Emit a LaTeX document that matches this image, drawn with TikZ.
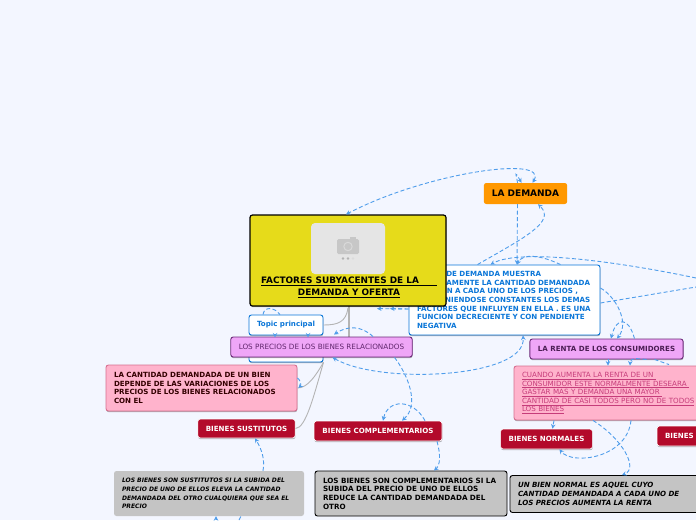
\documentclass[tikz,border=0pt]{standalone}
\usepackage{fontspec}
\setmainfont{DejaVu Sans}
\usetikzlibrary{arrows.meta,shadows}
\definecolor{bg}{HTML}{F3F6FF}
\definecolor{dashblue}{HTML}{4F9DEB}
\definecolor{linkgray}{HTML}{B4B4B4}
\definecolor{crim}{HTML}{B30A2B}
\definecolor{lilac}{HTML}{EFA6F7}
\definecolor{lilacb}{HTML}{6B2A78}
\definecolor{rosa}{HTML}{FFB3CC}
\definecolor{rosab}{HTML}{D66F90}
\definecolor{gris}{HTML}{C4C4C4}
\definecolor{azul}{HTML}{0A76D8}
\definecolor{yel}{HTML}{E6DB1A}
\definecolor{naranja}{HTML}{FF9800}
\definecolor{rosatxt}{HTML}{C63C7A}
\tikzset{
  base/.style={rectangle,rounded corners=2.5pt,inner sep=0pt,inner xsep=8pt,align=left,anchor=center},
  txt/.style={font=\bfseries\fontsize{7.1}{8.6}\selectfont},
  shad/.style={drop shadow={shadow xshift=0.3pt,shadow yshift=-1.2pt,opacity=.3,fill=black}},
  whitebox/.style={base,txt,draw=azul,fill=white,line width=0.9pt,text=azul,shad},
  lilacbox/.style={base,draw=lilacb,line width=0.9pt,fill=lilac,align=center,shad},
  rosebox/.style={base,draw=rosab,line width=0.9pt,fill=rosa,shad},
  crimbox/.style={base,txt,draw=white,line width=0.7pt,fill=crim,text=white,align=center,shad},
  greybox/.style={base,txt,fill=gris,text=black},
  greyline/.style={base,txt,draw=black,line width=0.9pt,fill=gris,text=black},
  dl/.style={draw=dashblue,line width=0.9pt,dash pattern=on 4pt off 2.4pt},
  da/.style={dl,-{Stealth[length=4.5pt,width=4.5pt]}},
  daa/.style={dl,{Stealth[length=4.5pt,width=4.5pt]}-{Stealth[length=4.5pt,width=4.5pt]}},
  gl/.style={draw=linkgray,line width=0.9pt},
}
\begin{document}
\begin{tikzpicture}[x=1pt,y=-1pt]
\useasboundingbox (0,0) rectangle (696,520);
\fill[bg] (0,0) rectangle (696,520);
\clip (0,0) rectangle (696,520);

% hidden topic node behind the lilac one
\node[whitebox,minimum width=74pt,minimum height=24pt] (topicb) at (286,350) {};

% nodes
\node[whitebox,text width=175pt,minimum height=70pt] (curva) at (504.5,300)
 {CURVA DE DEMANDA MUESTRA\\GRAFICAMENTE LA CANTIDAD DEMANDADA\\TAMBIEN A CADA UNO DE LOS PRECIOS ,\\MANTENIENDOSE CONSTANTES LOS DEMAS\\FACTORES QUE INFLUYEN EN ELLA . ES UNA\\FUNCION DECRECIENTE Y CON PENDIENTE\\NEGATIVA};
\node[whitebox,font=\bfseries\fontsize{7.1}{8}\selectfont,align=center,minimum width=74pt,minimum height=20pt] (topic) at (286,325) {Topic principal};

% grey links
\draw[draw=linkgray,line width=2.6pt] (349,306) -- (349,340);
\draw[gl] (topic.east) .. controls (338,325) and (346,322) .. (348,308);

\node[base,draw=black,line width=1.2pt,fill=yel,minimum width=196pt,minimum height=91pt,shad] (main) at (348,260.5) {};
\node[rectangle,rounded corners=4pt,fill=black!10,minimum width=74pt,minimum height=51pt,inner sep=0pt] (photo) at (348,248.5) {};
\fill[black!22,rounded corners=1.5pt] (337,239) rectangle (359,254);
\fill[black!22] (350,236.5) rectangle (356,240);
\draw[white!85!black,line width=1pt] (348,246.5) circle (4.2pt);
\fill[black!30] (343,258.5) circle (1.3pt);
\fill[black!30] (348,258.5) circle (1.3pt);
\fill[black!14] (353,258.5) circle (1.3pt);
\node[inner sep=0pt,align=center,text=black,font=\bfseries\fontsize{8.9}{12}\selectfont] (title) at (349,287)
 {\underline{FACTORES SUBYACENTES DE LA\hspace{18pt}}\\\underline{DEMANDA Y OFERTA}};

\node[base,fill=naranja,minimum width=81pt,minimum height=21pt,align=center,font=\bfseries\fontsize{9}{10}\selectfont,text=black] (dem) at (525.5,193.5) {LA DEMANDA};

\node[rosebox,txt,text=black!80!red,text width=175pt,minimum height=46pt] (cant) at (201.5,388)
 {LA CANTIDAD DEMANDADA DE UN BIEN\\DEPENDE DE LAS VARIACIONES  DE LOS\\PRECIOS DE LOS BIENES RELACIONADOS\\CON EL};
\node[crimbox,minimum width=97pt,minimum height=19pt] (sust) at (246.5,428.5) {BIENES SUSTITUTOS};
\node[crimbox,minimum width=128pt,minimum height=20pt] (comp) at (378,431) {BIENES COMPLEMENTARIOS};
\node[greybox,font=\bfseries\itshape\fontsize{6.05}{8.6}\selectfont,text width=174pt,minimum height=45pt] (gsust) at (209,493.5)
 {LOS BIENES SON SUSTITUTOS SI LA SUBIDA DEL\\PRECIO DE UNO DE ELLOS ELEVA LA CANTIDAD\\DEMANDADA DEL OTRO CUALQUIERA QUE SEA EL\\PRECIO};
\node[greyline,font=\bfseries\fontsize{7.2}{8.6}\selectfont,text width=176pt,minimum height=45pt] (gcomp) at (411,493.5)
 {LOS BIENES SON COMPLEMENTARIOS SI LA\\SUBIDA DEL PRECIO DE UNO DE ELLOS\\REDUCE LA CANTIDAD DEMANDADA DEL\\OTRO};
\node[greyline,font=\bfseries\itshape\fontsize{7.1}{8.6}\selectfont,text width=190pt,minimum height=37pt] (gnorm) at (613,494)
 {UN BIEN NORMAL ES AQUEL CUYO\\CANTIDAD DEMANDADA A CADA UNO DE\\LOS PRECIOS AUMENTA LA RENTA};
\node[lilacbox,txt,text=lilacb!70!black,minimum width=153pt,minimum height=20pt] (renta) at (606.5,349) {LA RENTA DE LOS CONSUMIDORES};
\node[rosebox,text=rosatxt,font=\fontsize{7.15}{8.6}\selectfont,text width=190pt,minimum height=54pt] (cuando) at (617,393)
 {\underline{CUANDO AUMENTA LA RENTA DE UN }\\\underline{CONSUMIDOR ESTE NORMALMENTE DESEARA }\\\underline{GASTAR MAS Y DEMANDA UNA MAYOR }\\\underline{CANTIDAD DE CASI TODOS PERO NO DE TODOS}\\\underline{LOS BIENES}};
\node[crimbox,minimum width=91pt,minimum height=20pt] (norm) at (546.5,439) {BIENES NORMALES};
\node[crimbox,align=left,text width=60pt,minimum height=20pt] (inf) at (695,436) {BIENES};

% grey links to lower nodes
\draw[gl] (cant.east |- 0,388) .. controls (308,388) and (316,375) .. (topicb.south east);
\draw[gl] (sust.east) .. controls (306,428) and (314,395) .. (topicb.south east);

\node[lilacbox,font=\fontsize{7.25}{8}\selectfont,text=lilacb!90!black,minimum width=181pt,minimum height=20pt] (prec) at (321.5,347) {LOS PRECIOS DE LOS BIENES RELACIONADOS};

% dashed connectors
\draw[da] ([xshift=-8pt]dem.north) .. controls ([xshift=-9pt,yshift=8pt]dem.north) and ([xshift=-12pt,yshift=14pt]dem.north) .. ([xshift=-4pt]dem.north);
\draw[daa] ([xshift=7pt]dem.north) .. controls ([xshift=24pt,yshift=28pt]dem.north) and ([xshift=-100pt,yshift=10pt]dem.north) .. ([xshift=-2pt]main.north);
\draw[da] ([xshift=-8pt]dem.south) -- ([xshift=12.5pt]curva.north);
\draw[da] ([xshift=-27pt]curva.north) .. controls ([xshift=20pt,yshift=27pt]curva.north) and ([xshift=52pt,yshift=43pt]curva.north) .. ([xshift=12.5pt]dem.south);
\coordinate (redge) at (696,278);
\coordinate (redgeb) at (696,287);
\draw[da] (redge) .. controls (620,262) and (520,248) .. ([xshift=-14pt]curva.north);
\draw[da] ([xshift=56pt]curva.north) .. controls ([xshift=35pt,yshift=10pt]curva.north) and ([xshift=18pt,yshift=11pt]curva.north) .. ([xshift=12.5pt]curva.north);
\draw[dl] ([yshift=-3pt]curva.east) -- (redgeb);
\draw[da] ([yshift=12pt]curva.east) .. controls (615,296) and (630,322) .. ([xshift=10.5pt]renta.north);
\draw[da] ([xshift=28pt]renta.north) .. controls ([xshift=22pt,yshift=22pt]renta.north) and ([xshift=10pt,yshift=22pt]renta.north) .. ([xshift=4.5pt]renta.north);
\draw[da] ([yshift=-9pt]curva.west) -- ([xshift=42pt,yshift=-2pt]main.south);
\draw[da] ([yshift=-9pt]curva.west) -- ([xshift=29pt,yshift=-2pt]main.south);
\draw[da] ([xshift=1.5pt]renta.south) -- ([xshift=-9pt]cuando.north);
\draw[da] ([xshift=40pt]renta.south) .. controls ([xshift=30pt,yshift=1pt]renta.south) and ([xshift=24pt,yshift=2pt]renta.south) .. ([xshift=13pt]cuando.north);
\draw[dl] ([xshift=48pt]renta.south) -- ([xshift=52pt,yshift=1pt]cuando.north);
\draw[da] ([xshift=-63pt]cuando.south) -- ([xshift=6pt]norm.north);
\draw[da] ([xshift=14pt]cuando.south) .. controls ([xshift=10pt,yshift=-38pt]cuando.south) and ([xshift=-45pt,yshift=-45pt]cuando.south) .. ([xshift=13pt]norm.south);
\draw[da] ([xshift=-24pt]cuando.south) .. controls ([xshift=5pt,yshift=-18pt]cuando.south) and ([xshift=22pt,yshift=-48pt]cuando.south) .. ([xshift=9pt]gnorm.north);
\draw[daa] ([xshift=11pt]prec.south) .. controls (380,385) and (526,378) .. ([xshift=18.5pt]curva.south);
\draw[da] ([xshift=73pt]prec.south) .. controls (408,375) and (420,405) .. ([xshift=24pt]comp.north);
\draw[da] ([xshift=47pt]comp.north) .. controls ([xshift=35pt,yshift=22pt]comp.north) and ([xshift=10pt,yshift=22pt]comp.north) .. ([xshift=5pt]comp.north);
\draw[da] ([xshift=59pt]comp.south) .. controls ([xshift=63pt,yshift=-14pt]comp.south) and ([xshift=62pt,yshift=-24pt]comp.south) .. ([xshift=23pt]gcomp.north);
\draw[da] ([xshift=54pt]gsust.north) .. controls ([xshift=56pt,yshift=11pt]gsust.north) and ([xshift=53pt,yshift=21pt]gsust.north) .. ([xshift=8.5pt]sust.south);
\coordinate (bota) at (216,520);
\coordinate (botb) at (239,520);
\draw[da] (bota) -- ([xshift=7pt]gsust.south);
\draw[dl] (botb) -- ([xshift=32pt]gsust.south);
\draw[dl] ([xshift=-23pt]topic.north) .. controls ([xshift=-22pt,yshift=8pt]topic.north) and ([xshift=-12pt,yshift=8pt]topic.north) .. ([xshift=-6pt]topic.north);
\draw[da] ([xshift=-11pt,yshift=-1pt]topic.south) -- ([xshift=-11pt,yshift=-2pt]topic.south);
\draw[da] ([xshift=22pt,yshift=-1pt]topic.south) -- ([xshift=22pt,yshift=-2pt]topic.south);
\draw[da] ([xshift=51.5pt]prec.north) .. controls ([xshift=40pt,yshift=11pt]prec.north) and ([xshift=26pt,yshift=11pt]prec.north) .. ([xshift=12.5pt,yshift=2pt]prec.north);
\draw[da] ([yshift=10pt]cant.east) .. controls ([xshift=3pt,yshift=8pt]cant.east) and ([xshift=4pt,yshift=3pt]cant.east) .. ([xshift=1pt]cant.east);
\end{tikzpicture}
\end{document}
